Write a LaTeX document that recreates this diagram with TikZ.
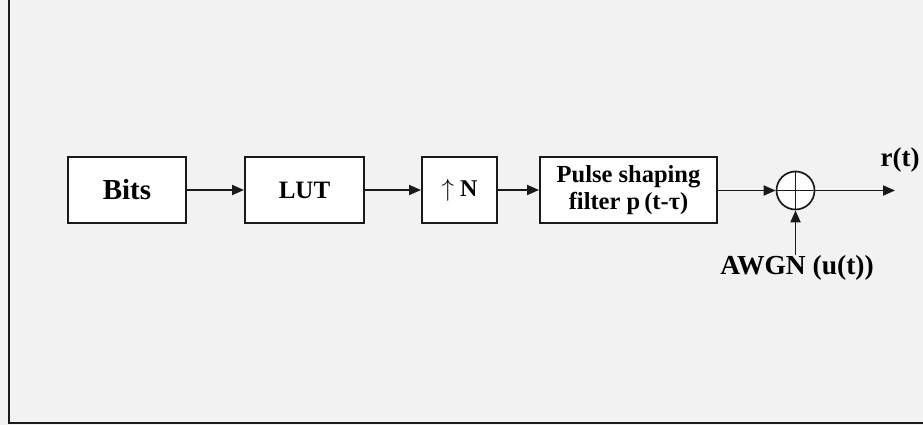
\documentclass[tikz,border=0pt]{standalone}
\usepackage{fontspec}
\setmainfont{Liberation Serif}
\usetikzlibrary{arrows.meta}
\definecolor{bg}{HTML}{F2F2F2}
\definecolor{ln}{HTML}{1A1A1A}
\tikzset{
  blk/.style={draw=ln, line width=1.9pt, fill=white, inner sep=0pt, align=center, font=\bfseries},
  conn/.style={draw=ln, line width=1.9pt, -{Triangle[length=12pt,width=10pt]}},
  lbl/.style={inner sep=0pt, font=\bfseries}
}
\begin{document}
\begin{tikzpicture}[x=1pt,y=-1pt]
\useasboundingbox (0,0) rectangle (923,425);
\fill[bg] (0,0) rectangle (923,425);
\draw[ln, line width=1.9pt] (9,-2) -- (9,423) -- (925,423);
\node[blk, minimum width=118pt, minimum height=66pt, font=\bfseries\fontsize{29}{31}\selectfont] (bits) at (127,190) {Bits};
\node[blk, minimum width=119pt, minimum height=66pt, font=\bfseries\fontsize{25}{27}\selectfont] (lut) at (304.5,190) {LUT};
\node[blk, minimum width=75pt, minimum height=66pt, font=\fontsize{24}{26}\selectfont] (up) at (459.5,190) {$\uparrow$ \textbf{N}};
\node[blk, minimum width=177pt, minimum height=66pt, font=\bfseries\fontsize{24.5}{27}\selectfont] (psf) at (628.5,190) {Pulse shaping\\filter p\,(t-τ)};
\node[draw=ln, line width=1.7pt, fill=white, circle, minimum size=38pt, inner sep=0pt] (sum) at (795.5,190.5) {};
\draw[ln, line width=1.4pt] (sum.north) -- (sum.south) (sum.west) -- (sum.east);
\coordinate (out) at (895,190.5);
\node[lbl, font=\bfseries\fontsize{27}{29}\selectfont] (rt) at (900,160) {r(t)};
\node[lbl, font=\bfseries\fontsize{27.5}{29}\selectfont, anchor=north] (awgn) at (797,255) {AWGN (u(t))};
\draw[conn] (bits) -- (lut);
\draw[conn] (lut) -- (up);
\draw[conn] (up) -- (psf);
\draw[conn] (psf.east |- sum.west) -- (sum.west);
\draw[conn] (sum.east) -- (out);
\draw[conn] (sum.south |- awgn.north) -- (sum.south);
\end{tikzpicture}
\end{document}
